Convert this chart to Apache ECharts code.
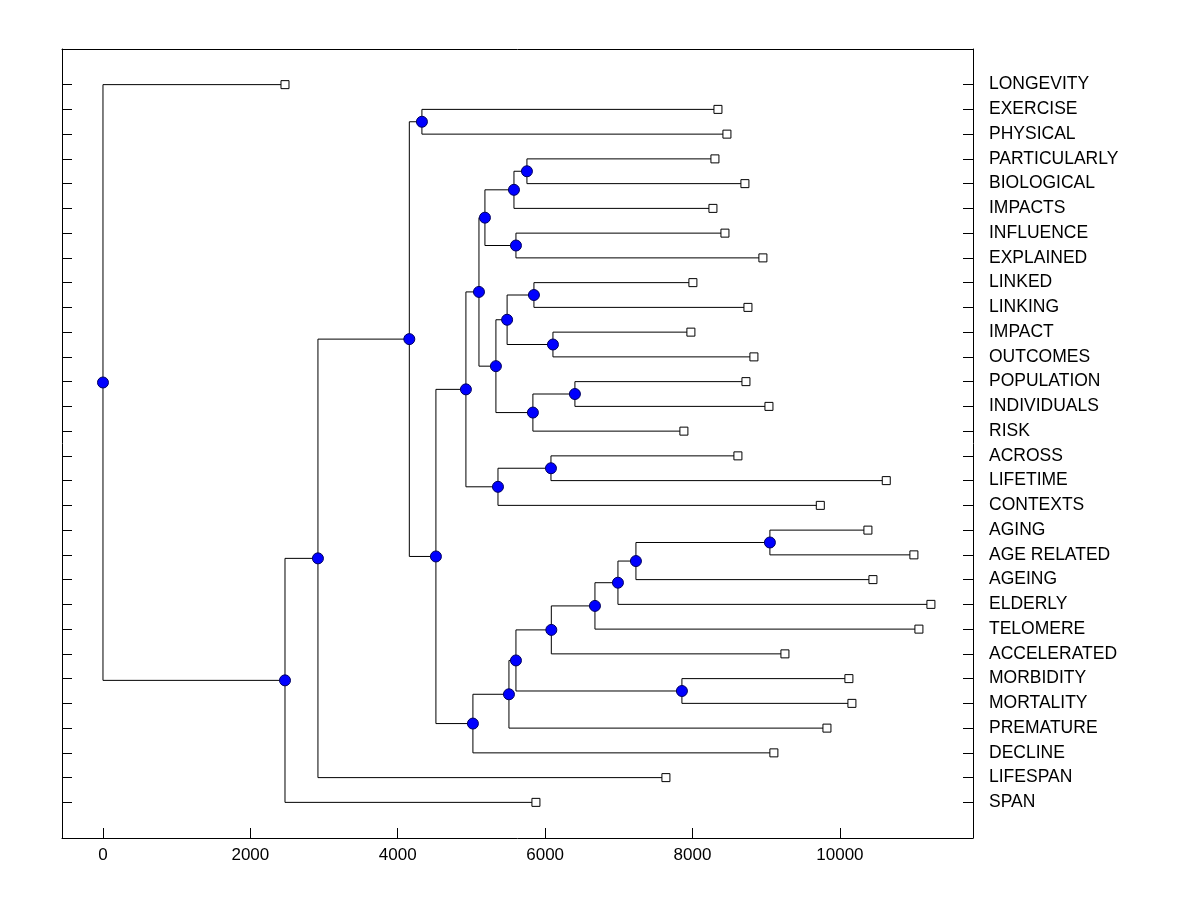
<!DOCTYPE html>
<html>
<head>
<meta charset="utf-8">
<script src="https://cdn.jsdelivr.net/npm/echarts@6/dist/echarts.min.js"></script>
<style>
html,body{margin:0;padding:0;background:#fff;}
#chart{width:1200px;height:900px;}
</style>
</head>
<body>
<div id="chart"></div>
<script>
// Leaves (top to bottom) and their heights
const leafNames = ['LONGEVITY','EXERCISE','PHYSICAL','PARTICULARLY','BIOLOGICAL','IMPACTS','INFLUENCE','EXPLAINED',
  'LINKED','LINKING','IMPACT','OUTCOMES','POPULATION','INDIVIDUALS','RISK','ACROSS','LIFETIME','CONTEXTS',
  'AGING','AGE RELATED','AGEING','ELDERLY','TELOMERE','ACCELERATED','MORBIDITY','MORTALITY','PREMATURE',
  'DECLINE','LIFESPAN','SPAN'];
const leafHeights = [2470,8345,8467,8304,8711,8277,8440,8955,
  8005,8752,7978,8833,8725,9037,7883,8616,10629,9734,
  10380,11004,10448,11235,11072,9254,10122,10163,9824,
  9104,7639,5875];

// Internal merge nodes: name, height, left child, right child
const nodeNames   = ['n0','n1','n2','n3','n4','n5','n6','n7','n8','n9','n10','n11','n12','n13','n14',
  'n15','n16','n17','n18','n19','n20','n21','n22','n23','n24','n25','n26','n27','n28'];
const nodeHeights = [0,2470,2917,4157,4328,4518,4925,5102,5183,5577,5753,5604,5332,5484,5848,
  6106,5834,6404,5360,6079,5020,5509,5604,6084,6676,6988,7232,9050,7856];
const nodeLeft    = ['LONGEVITY','n2','n3','n4','EXERCISE','n6','n7','n8','n9','n10','PARTICULARLY','INFLUENCE','n13','n14','LINKED',
  'IMPACT','n17','POPULATION','n19','ACROSS','n21','n22','n23','n24','n25','n26','n27','AGING','MORBIDITY'];
const nodeRight   = ['n1','SPAN','LIFESPAN','n5','PHYSICAL','n20','n18','n12','n11','IMPACTS','BIOLOGICAL','EXPLAINED','n16','n15','LINKING',
  'OUTCOMES','RISK','INDIVIDUALS','CONTEXTS','LIFETIME','DECLINE','PREMATURE','n28','ACCELERATED','TELOMERE','ELDERLY','AGEING','AGE RELATED','MORTALITY'];

const xTicks = [0,2000,4000,6000,8000,10000];
const yTicks = leafNames.map((_, i) => i);

// layout
const pos = {};
leafNames.forEach((n, i) => { pos[n] = {x: leafHeights[i], y: i}; });
function place(name) {
  if (pos[name]) return pos[name];
  const k = nodeNames.indexOf(name);
  const a = place(nodeLeft[k]), b = place(nodeRight[k]);
  pos[name] = {x: nodeHeights[k], y: (a.y + b.y) / 2};
  return pos[name];
}
nodeNames.forEach(place);

const linkData = nodeNames.map((k, i) => {
  const a = pos[nodeLeft[i]], b = pos[nodeRight[i]], p = pos[k];
  return [p.x, p.y, a.x, a.y, b.x, b.y];
});
const nodeData = nodeNames.map(k => [pos[k].x, pos[k].y]);
const leafData = leafNames.map(n => [pos[n].x, pos[n].y]);

const FONT = 'Liberation Sans, Arial, sans-serif';
const XMIN = -556, XMAX = 11806, YMIN = -1.44, YMAX = 30.44;
const LINE = {show: true, onZero: false, lineStyle: {color: '#000', width: 1}};

const chart = echarts.init(document.getElementById('chart'));
chart.setOption({
  animation: false,
  backgroundColor: '#fff',
  grid: {left: 62, right: 227, top: 49, bottom: 62, containLabel: false},
  xAxis: [{
    type: 'value', position: 'bottom', min: XMIN, max: XMAX,
    axisLine: LINE,
    axisTick: {show: true, inside: true, length: 10, customValues: xTicks, lineStyle: {color: '#000'}},
    axisLabel: {show: true, customValues: xTicks, color: '#000', fontSize: 17, fontFamily: FONT, margin: 9,
      formatter: v => String(v)},
    splitLine: {show: false}
  }, {
    type: 'value', position: 'top', min: XMIN, max: XMAX,
    axisLine: LINE,
    axisTick: {show: false}, axisLabel: {show: false}, splitLine: {show: false}
  }],
  yAxis: [{
    type: 'value', position: 'left', inverse: true, min: YMIN, max: YMAX,
    axisLine: LINE,
    axisTick: {show: true, inside: true, length: 10, customValues: yTicks, lineStyle: {color: '#000'}},
    axisLabel: {show: false}, splitLine: {show: false}
  }, {
    type: 'value', position: 'right', inverse: true, min: YMIN, max: YMAX,
    axisLine: LINE,
    axisTick: {show: true, inside: true, length: 10, customValues: yTicks, lineStyle: {color: '#000'}},
    axisLabel: {show: true, customValues: yTicks, color: '#000', fontSize: 17.5, fontFamily: FONT, margin: 16,
      align: 'left', formatter: v => leafNames[Math.round(v)] || ''},
    splitLine: {show: false}
  }],
  series: [{
    type: 'custom', xAxisIndex: 0, yAxisIndex: 0, z: 1,
    data: linkData,
    encode: {x: [0, 2, 4], y: [1, 3, 5]},
    renderItem: function (params, api) {
      const p = api.coord([api.value(0), api.value(1)]);
      const a = api.coord([api.value(2), api.value(3)]);
      const b = api.coord([api.value(4), api.value(5)]);
      return {
        type: 'polyline',
        shape: {points: [a, [p[0], a[1]], [p[0], b[1]], b]},
        style: {stroke: '#000', lineWidth: 1, fill: null}
      };
    }
  }, {
    type: 'scatter', xAxisIndex: 0, yAxisIndex: 0, z: 3,
    data: nodeData, symbol: 'circle', symbolSize: 11,
    itemStyle: {color: '#0000ff', borderColor: '#000060', borderWidth: 1, opacity: 1}
  }, {
    type: 'scatter', xAxisIndex: 0, yAxisIndex: 0, z: 3,
    data: leafData, symbol: 'rect', symbolSize: 8,
    itemStyle: {color: '#fff', borderColor: '#000', borderWidth: 1, opacity: 1}
  }]
});
</script>
</body>
</html>
